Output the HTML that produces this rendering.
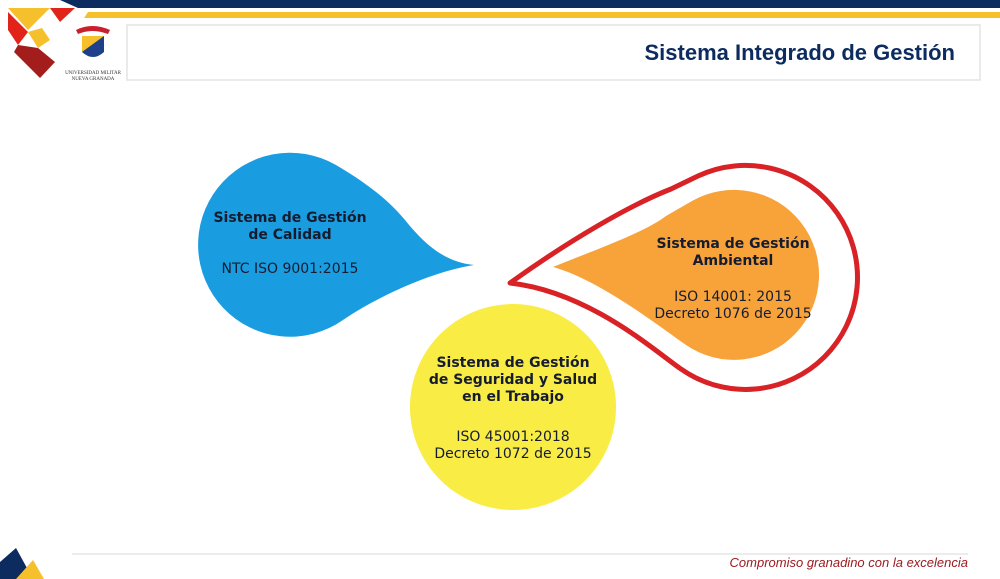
<!DOCTYPE html>
<html><head><meta charset="utf-8"><style>
html,body{margin:0;padding:0;background:#fff;}
body{width:1000px;height:579px;overflow:hidden;position:relative;font-family:"Liberation Sans",sans-serif;}
</style></head><body>
<svg width="1000" height="579" viewBox="0 0 1000 579" xmlns="http://www.w3.org/2000/svg" style="position:absolute;left:0;top:0">
<polygon points="60,0 1000,0 1000,8 78,8" fill="#0c2b5e"/>
<polygon points="88,12 1000,12 1000,18 84,18" fill="#f6c02c"/>
<polygon points="8,8 50,8 28,30" fill="#f6c02c"/>
<polygon points="50,8 75,8 60,22" fill="#e2231a"/>
<polygon points="8,12 28,32 18,45 8,30" fill="#e2231a"/>
<polygon points="28,32 42,28 50,40 38,48" fill="#f6c02c"/>
<polygon points="18,45 38,48 55,62 40,78 14,52" fill="#a31d1d"/>
<rect x="127" y="25" width="853" height="55" fill="#fff" stroke="#e3e3e3" stroke-width="1.5"/>
<text x="955" y="60" text-anchor="end" font-family="Liberation Sans, sans-serif" font-weight="bold" font-size="22" fill="#0c2b5e">Sistema Integrado de Gestión</text>
<path d="M76,30 Q92,22 110,30 L108,34 Q92,28 78,34Z" fill="#c8202f"/>
<path d="M82,36 L104,36 L104,52 Q93,62 82,52Z" fill="#1e3f8a"/>
<path d="M82,36 L104,36 L82,52Z" fill="#f6c02c"/>
<text x="93" y="74" text-anchor="middle" font-size="5" fill="#333" font-family="Liberation Serif, serif">UNIVERSIDAD MILITAR</text>
<text x="93" y="80" text-anchor="middle" font-size="5" fill="#333" font-family="Liberation Serif, serif">NUEVA GRANADA</text>
<line x1="72" y1="554" x2="968" y2="554" stroke="#e6e6e6" stroke-width="1.5"/>
<polygon points="0,579 0,562 16,548 33,579" fill="#0c2b5e"/>
<polygon points="16,579 33,560 44,579" fill="#f6c02c"/>
<text x="968" y="567" text-anchor="end" font-style="italic" font-size="13" fill="#9b1c20" font-family="Liberation Sans, sans-serif">Compromiso granadino con la excelencia</text>
<path d="M474,265 C445,262 425,245 405,220 C390,202 370,185 336,165 A92 92 0 1 0 343 320 C375,298 430,272 474,265 Z" fill="#1a9de0"/>
<path d="M510,283 C570,240 630,205 671,189 L698,176 A112 112 0 1 1 681 369 C656,352 590,292 510,283 Z" fill="#fff" stroke="#d82226" stroke-width="5" stroke-linejoin="round"/>
<path d="M553,267 C600,248 645,232 666,216 L692,201 A85 85 0 1 1 686 345 C660,327 600,280 553,267 Z" fill="#f7a33a"/>
<circle cx="513" cy="407" r="103" fill="#f9ec45"/>
<g font-family="DejaVu Sans, sans-serif" fill="#161c30" text-anchor="middle" font-size="14">
<text x="290" y="222" font-weight="bold">Sistema de Gestión</text>
<text x="290" y="239" font-weight="bold">de Calidad</text>
<text x="290" y="273">NTC ISO 9001:2015</text>
<text x="733" y="248" font-weight="bold">Sistema de Gestión</text>
<text x="733" y="265" font-weight="bold">Ambiental</text>
<text x="733" y="301">ISO 14001: 2015</text>
<text x="733" y="318">Decreto 1076 de 2015</text>
<text x="513" y="367" font-weight="bold">Sistema de Gestión</text>
<text x="513" y="384" font-weight="bold">de Seguridad y Salud</text>
<text x="513" y="401" font-weight="bold">en el Trabajo</text>
<text x="513" y="441">ISO 45001:2018</text>
<text x="513" y="458">Decreto 1072 de 2015</text>
</g>
</svg>
</body></html>
